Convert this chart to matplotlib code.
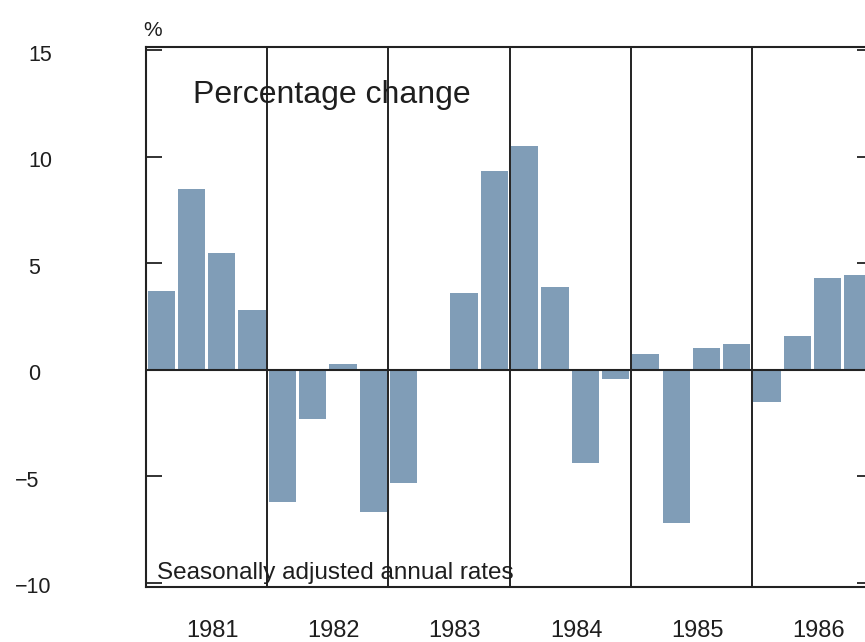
import numpy as np
import matplotlib
matplotlib.use("Agg")
import matplotlib.pyplot as plt
import matplotlib.transforms as mtransforms

# Quarterly data, seasonally adjusted annual rates (%)
years = ["1981", "1982", "1983", "1984", "1985", "1986"]
q_1981 = [3.7, 8.5, 5.5, 2.8]
q_1982 = [-6.2, -2.3, 0.25, -6.7]
q_1983 = [-5.3, 0.0, 3.6, 9.35]
q_1984 = [10.5, 3.9, -4.4, -0.45]
q_1985 = [0.75, -7.2, 1.0, 1.2]
q_1986 = [-1.5, 1.6, 4.3, 4.45]

ytick_vals = [15, 10, 5, 0, -5, -10]
ytick_labels = ["15", "10", "5", "0", "\u22125", "\u221210"]

BAR_COLOR = "#809db7"
LINE_COLOR = "#222222"
TEXT_COLOR = "#1e1e1e"

plt.rcParams["font.family"] = ["Liberation Sans", "DejaVu Sans"]

values = q_1981 + q_1982 + q_1983 + q_1984 + q_1985 + q_1986
x = np.arange(len(values))
n_q = 4

fig = plt.figure(figsize=(8.65, 6.42), dpi=100)
fig.patch.set_facecolor("white")
# axes runs off the right edge, like the cropped scan
ax = fig.add_axes([0.1688, 0.0857, 0.8405, 0.8411])

ax.bar(x, values, width=0.9, color=BAR_COLOR, zorder=2)

ax.set_xlim(-0.5, len(values) - 0.5)
ax.set_ylim(-10.2, 15.15)

# zero line and year dividers
ax.axhline(0, color=LINE_COLOR, lw=1.5, zorder=3)
for i in range(1, len(years)):
    ax.axvline(i * n_q - 0.5, color=LINE_COLOR, lw=1.4, zorder=3)

for s in ax.spines.values():
    s.set_color(LINE_COLOR)
    s.set_linewidth(1.5)
    s.set_zorder(4)

# y ticks: inward marks on both sides, labels drawn far to the left
ax.set_yticks(ytick_vals)
ax.tick_params(axis="y", direction="in", length=11.5, width=1.3,
               color=LINE_COLOR, left=True, right=True, labelleft=False)
trans = mtransforms.blended_transform_factory(fig.transFigure, ax.transData)
down = mtransforms.ScaledTranslation(0, -5 / 100, fig.dpi_scale_trans)
for v, lab in zip(ytick_vals, ytick_labels):
    xpos = 15 / 865 if v < 0 else 28 / 865
    ax.text(xpos, v, lab, transform=trans + down, ha="left", va="center",
            fontsize=15.5, color=TEXT_COLOR, clip_on=False)

# year labels under each block of four quarters
year_centers = np.arange(len(years)) * n_q + (n_q - 1) / 2
ax.set_xticks(year_centers)
ax.set_xticklabels(years, fontsize=17, color=TEXT_COLOR)
ax.tick_params(axis="x", length=0, pad=24)
shift = mtransforms.ScaledTranslation(6 / 100, 0, fig.dpi_scale_trans)
for lab in ax.get_xticklabels():
    lab.set_transform(lab.get_transform() + shift)

fig.text(153 / 865, 1 - 31 / 642, "%", ha="center", va="center",
         fontsize=15, color=TEXT_COLOR)
ax.text(0.0647, 0.911, "Percentage change", transform=ax.transAxes,
        ha="left", va="center", fontsize=23, color=TEXT_COLOR, zorder=5)
ax.text(0.0151, 0.0148, "Seasonally adjusted annual rates", transform=ax.transAxes,
        ha="left", va="baseline", fontsize=17.5, color=TEXT_COLOR, zorder=5)

fig.savefig("out.png", dpi=100, facecolor="white")
